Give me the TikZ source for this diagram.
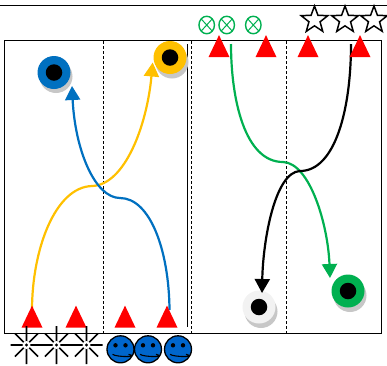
\documentclass[tikz,border=0pt]{standalone}
\usepackage{amsmath}
\usepackage{amssymb}
\usepackage{tikz}
\usetikzlibrary{arrows.meta}
\usetikzlibrary{shapes}

\definecolor{dotblue}{RGB}{0,112,192}
\definecolor{dotyellow}{RGB}{255,192,0}
\definecolor{dotgreen}{RGB}{0,176,80}
\definecolor{dotwhite}{RGB}{242,242,242}
\definecolor{faceblue}{RGB}{0,102,204}

\tikzset{
  redmark/.style={isosceles triangle,isosceles triangle stretches,shape border rotate=90,
    fill=red,inner sep=0pt,minimum height=22pt,minimum width=21pt},
  starmark/.style={star,star points=5,star point ratio=2.4,draw=black,line width=1.5pt,
    fill=white,inner sep=0pt,minimum size=28pt},
  crossmark/.style={ellipse,draw=dotgreen,line width=1.4pt,inner sep=0pt,minimum width=15.5pt,minimum height=17.5pt,
    path picture={\draw[dotgreen,line width=1pt]
      ([shift={(-2pt,-2pt)}]path picture bounding box.south west) -- ([shift={(2pt,2pt)}]path picture bounding box.north east)
      ([shift={(-2pt,2pt)}]path picture bounding box.north west) -- ([shift={(2pt,-2pt)}]path picture bounding box.south east);}},
  facemark/.style={circle,draw=black,line width=1.3pt,fill=faceblue,inner sep=0pt,minimum size=27pt,
    path picture={
      \fill[black] ([shift={(-5pt,4pt)}]path picture bounding box.center) circle (2.2pt);
      \fill[black] ([shift={(5pt,4pt)}]path picture bounding box.center) circle (2.2pt);
      \draw[black,line width=1.1pt] ([shift={(-8pt,-5pt)}]path picture bounding box.center)
        .. controls +(4pt,-3pt) and +(12pt,-3pt) .. +(16pt,0pt);}},
  puck/.style={circle,inner sep=0pt,minimum size=33pt},
  puckshadow/.style={circle,fill=black!22,inner sep=0pt,minimum size=33pt},
  puckhole/.style={circle,fill=black,inner sep=0pt,minimum size=16.5pt},
  route/.style={line width=2.2pt,-{Triangle[length=14pt,width=15pt]}},
  sparkle/.pic={
    \draw[line width=1.6pt] (-16,0) -- (16,0) (0,-19) -- (0,19)
      (-11.5,-11.5) -- (11.5,11.5) (-11.5,11.5) -- (11.5,-11.5);
    \fill[white] (0,0) circle (4);
    \fill[black] (0,0) circle (1.6);
  }
}

\begin{document}
\begin{tikzpicture}[x=1pt,y=1pt,yscale=-1,xscale=1]
      \useasboundingbox (0,0) rectangle (387,365);
      % frame and lines
      \draw [line width=1.7pt] (0,5.5) -- (387,5.5) ;
      \draw [line width=1.7pt] (4.5,40.5) rectangle (381.5,333.5) ;
      \draw [densely dashed,line width=0.9pt] (103.5,41) -- (103.5,333) ;
      \draw [densely dashed,line width=0.9pt] (191.5,41) -- (191.5,333) ;
      \draw [densely dashed,line width=0.9pt] (286.5,41) -- (286.5,333) ;
      \draw [line width=1.3pt] (187.7,44) -- (187.7,327) ;
      % pucks
      \node at (56,76.5) [puckshadow] {};
      \node at (172,62) [puckshadow] {};
      \node at (261,311.5) [puckshadow] {};
      \node at (350,295.5) [puckshadow] {};
      \node (pblue) at (54,72.5) [puck,fill=dotblue] {};
      \node (pyellow) at (170,57.5) [puck,fill=dotyellow] {};
      \node (pwhite) at (259,307) [puck,fill=dotwhite] {};
      \node (pgreen) at (348,291) [puck,fill=dotgreen] {};
      \node at (pblue) [puckhole] {};
      \node at (pyellow) [puckhole] {};
      \node at (pwhite) [puckhole] {};
      \node at (pgreen) [puckhole] {};
      % routes
      \coordinate (gstart) at (231,44);
      \coordinate (kstart) at (351,44);
      \coordinate (bstart) at (169.5,310);
      \coordinate (ystart) at (32,310);
      \coordinate (yend) at (152.7,62.5);
      \coordinate (bend) at (72,86);
      \coordinate (gend) at (330,278);
      \coordinate (kend) at (262,293);
      \draw [route,color=dotyellow] (ystart) .. controls (32,250) and (55,187) .. (92,186)
             .. controls (125,185) and (147,125) .. (yend);
      \draw [route,color=dotblue] (bstart) .. controls (169,250) and (150,198) .. (120,198)
             .. controls (95,198) and (75,150) .. (bend);
      \draw [route,color=dotgreen] (gstart) .. controls (231,100) and (245,162) .. (283,162)
             .. controls (310,163) and (328,225) .. (gend);
      \draw [route,color=black] (kstart) .. controls (351,110) and (335,171) .. (300,171)
             .. controls (275,172) and (263,240) .. (kend);
      % triangles
      \node (top1) at (219,50.5) [redmark] {};
      \node (top2) at (266,50.5) [redmark] {};
      \node (top3) at (308,50.5) [redmark] {};
      \node (top4) at (360,50.5) [redmark] {};
      \node (low1) at (32,321) [redmark] {};
      \node (low2) at (76,321) [redmark] {};
      \node (low3) at (125,321) [redmark] {};
      \node (low4) at (167,321) [redmark] {};
      % marks above
      \node (cross1) at (206.7,25) [crossmark] {};
      \node (cross2) at (226.7,25) [crossmark] {};
      \node (cross3) at (253.3,25) [crossmark] {};
      \node (star1) at (314.5,20) [starmark] {};
      \node (star2) at (345,20) [starmark] {};
      \node (star3) at (374,20) [starmark] {};
      % marks below
      \pic at (26.5,345) {sparkle};
      \pic at (56.5,345) {sparkle};
      \pic at (86.5,345) {sparkle};
      \node (face1) at (120.5,349.3) [facemark] {};
      \node (face2) at (148,349.3) [facemark] {};
      \node (face3) at (178,349.3) [facemark] {};
    \end{tikzpicture}
\end{document}
